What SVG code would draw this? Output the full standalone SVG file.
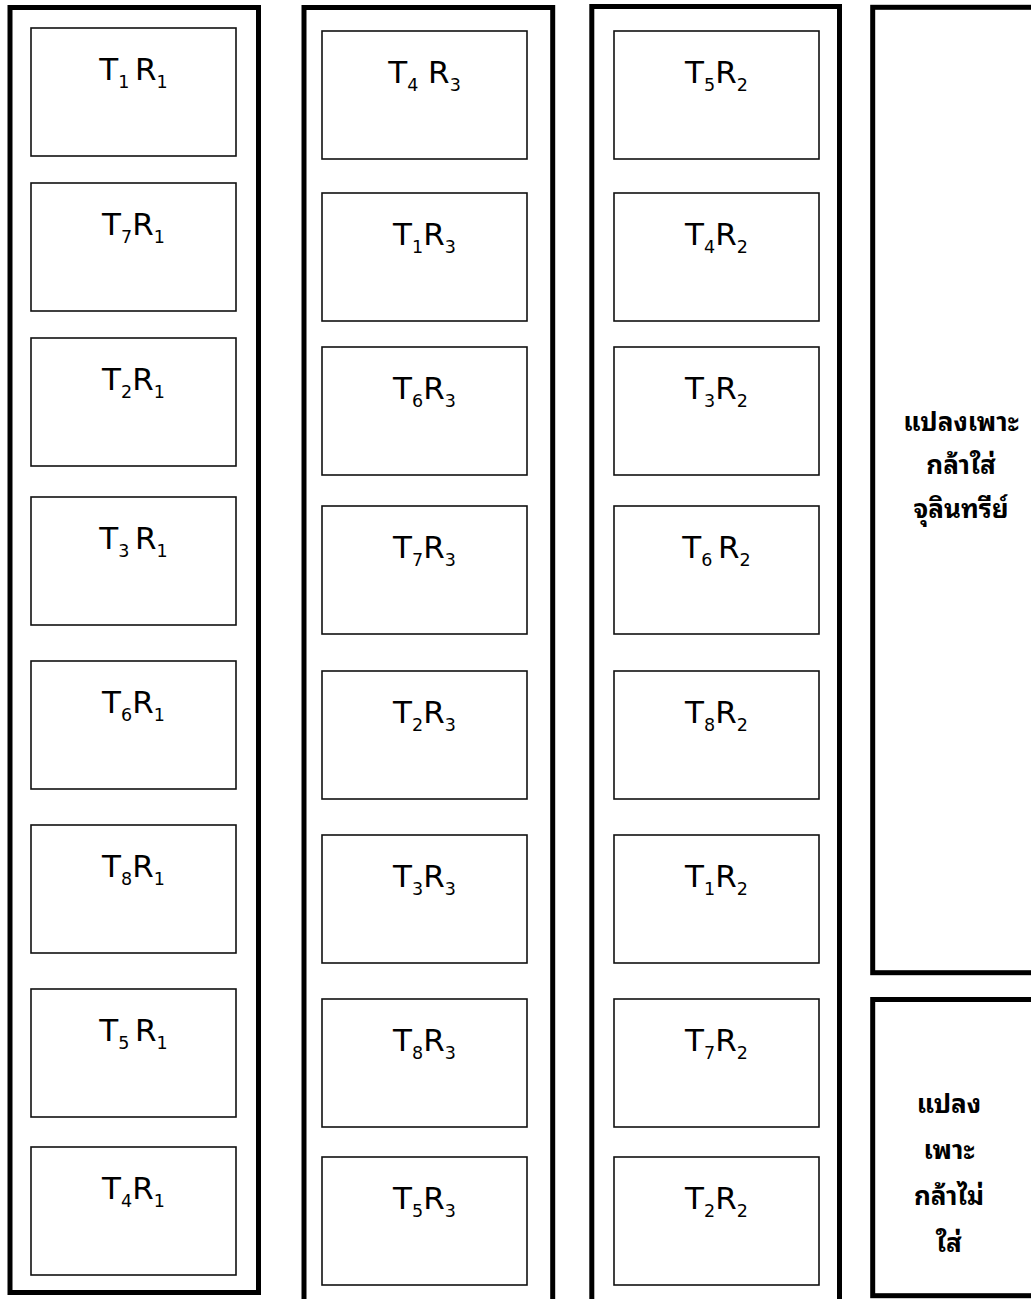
<svg xmlns="http://www.w3.org/2000/svg" width="1031" height="1299" viewBox="0 0 1031 1299">
<style>
.outer{fill:none;stroke:#000;stroke-width:5}
.plot{fill:#fff;stroke:#111;stroke-width:1.6}
.lbl{font-family:"DejaVu Sans",sans-serif;font-size:31px;fill:#000;text-anchor:middle}
.sub{font-size:17.5px}
.th{font-family:"Noto Sans Thai Looped","Loma","Garuda","Tlwg Typo","Noto Sans Thai","DejaVu Sans",sans-serif;font-size:26px;font-weight:bold;fill:#000;text-anchor:middle}
</style>
<rect width="1031" height="1299" fill="#fff"/>
<g id="beds">
<rect id="col1" class="outer" x="10" y="7.5" width="248.5" height="1285"/>
<rect id="col2" class="outer" x="304" y="7.5" width="248.7" height="1320"/>
<rect id="col3" class="outer" x="591.8" y="6.5" width="247.7" height="1320"/>
<rect id="nursery-bio" class="outer" x="872.7" y="7.3" width="180" height="965.4"/>
<rect id="nursery-plain" class="outer" x="872.7" y="999.5" width="180" height="296.2"/>
</g>
<g id="col1-plots">
<g id="p-T1R1"><rect class="plot" x="31" y="28" width="205" height="128"/><text class="lbl" x="133.5" y="80">T<tspan class="sub" dy="8">1 </tspan><tspan dy="-8">R</tspan><tspan class="sub" dy="8">1</tspan></text></g>
<g id="p-T7R1"><rect class="plot" x="31" y="183" width="205" height="128"/><text class="lbl" x="133.5" y="235">T<tspan class="sub" dy="8">7</tspan><tspan dy="-8">R</tspan><tspan class="sub" dy="8">1</tspan></text></g>
<g id="p-T2R1"><rect class="plot" x="31" y="338" width="205" height="128"/><text class="lbl" x="133.5" y="390">T<tspan class="sub" dy="8">2</tspan><tspan dy="-8">R</tspan><tspan class="sub" dy="8">1</tspan></text></g>
<g id="p-T3R1"><rect class="plot" x="31" y="497" width="205" height="128"/><text class="lbl" x="133.5" y="549">T<tspan class="sub" dy="8">3 </tspan><tspan dy="-8">R</tspan><tspan class="sub" dy="8">1</tspan></text></g>
<g id="p-T6R1"><rect class="plot" x="31" y="661" width="205" height="128"/><text class="lbl" x="133.5" y="713">T<tspan class="sub" dy="8">6</tspan><tspan dy="-8">R</tspan><tspan class="sub" dy="8">1</tspan></text></g>
<g id="p-T8R1"><rect class="plot" x="31" y="825" width="205" height="128"/><text class="lbl" x="133.5" y="877">T<tspan class="sub" dy="8">8</tspan><tspan dy="-8">R</tspan><tspan class="sub" dy="8">1</tspan></text></g>
<g id="p-T5R1"><rect class="plot" x="31" y="989" width="205" height="128"/><text class="lbl" x="133.5" y="1041">T<tspan class="sub" dy="8">5 </tspan><tspan dy="-8">R</tspan><tspan class="sub" dy="8">1</tspan></text></g>
<g id="p-T4R1"><rect class="plot" x="31" y="1147" width="205" height="128"/><text class="lbl" x="133.5" y="1199">T<tspan class="sub" dy="8">4</tspan><tspan dy="-8">R</tspan><tspan class="sub" dy="8">1</tspan></text></g>
</g>
<g id="col2-plots">
<g id="p-T4R3"><rect class="plot" x="322" y="31" width="205" height="128"/><text class="lbl" x="424.5" y="83">T<tspan class="sub" dy="8">4</tspan><tspan dy="-8"> R</tspan><tspan class="sub" dy="8">3</tspan></text></g>
<g id="p-T1R3"><rect class="plot" x="322" y="193" width="205" height="128"/><text class="lbl" x="424.5" y="245">T<tspan class="sub" dy="8">1</tspan><tspan dy="-8">R</tspan><tspan class="sub" dy="8">3</tspan></text></g>
<g id="p-T6R3"><rect class="plot" x="322" y="347" width="205" height="128"/><text class="lbl" x="424.5" y="399">T<tspan class="sub" dy="8">6</tspan><tspan dy="-8">R</tspan><tspan class="sub" dy="8">3</tspan></text></g>
<g id="p-T7R3"><rect class="plot" x="322" y="506" width="205" height="128"/><text class="lbl" x="424.5" y="558">T<tspan class="sub" dy="8">7</tspan><tspan dy="-8">R</tspan><tspan class="sub" dy="8">3</tspan></text></g>
<g id="p-T2R3"><rect class="plot" x="322" y="671" width="205" height="128"/><text class="lbl" x="424.5" y="723">T<tspan class="sub" dy="8">2</tspan><tspan dy="-8">R</tspan><tspan class="sub" dy="8">3</tspan></text></g>
<g id="p-T3R3"><rect class="plot" x="322" y="835" width="205" height="128"/><text class="lbl" x="424.5" y="887">T<tspan class="sub" dy="8">3</tspan><tspan dy="-8">R</tspan><tspan class="sub" dy="8">3</tspan></text></g>
<g id="p-T8R3"><rect class="plot" x="322" y="999" width="205" height="128"/><text class="lbl" x="424.5" y="1051">T<tspan class="sub" dy="8">8</tspan><tspan dy="-8">R</tspan><tspan class="sub" dy="8">3</tspan></text></g>
<g id="p-T5R3"><rect class="plot" x="322" y="1157" width="205" height="128"/><text class="lbl" x="424.5" y="1209">T<tspan class="sub" dy="8">5</tspan><tspan dy="-8">R</tspan><tspan class="sub" dy="8">3</tspan></text></g>
</g>
<g id="col3-plots">
<g id="p-T5R2"><rect class="plot" x="614" y="31" width="205" height="128"/><text class="lbl" x="716.5" y="83">T<tspan class="sub" dy="8">5</tspan><tspan dy="-8">R</tspan><tspan class="sub" dy="8">2</tspan></text></g>
<g id="p-T4R2"><rect class="plot" x="614" y="193" width="205" height="128"/><text class="lbl" x="716.5" y="245">T<tspan class="sub" dy="8">4</tspan><tspan dy="-8">R</tspan><tspan class="sub" dy="8">2</tspan></text></g>
<g id="p-T3R2"><rect class="plot" x="614" y="347" width="205" height="128"/><text class="lbl" x="716.5" y="399">T<tspan class="sub" dy="8">3</tspan><tspan dy="-8">R</tspan><tspan class="sub" dy="8">2</tspan></text></g>
<g id="p-T6R2"><rect class="plot" x="614" y="506" width="205" height="128"/><text class="lbl" x="716.5" y="558">T<tspan class="sub" dy="8">6 </tspan><tspan dy="-8">R</tspan><tspan class="sub" dy="8">2</tspan></text></g>
<g id="p-T8R2"><rect class="plot" x="614" y="671" width="205" height="128"/><text class="lbl" x="716.5" y="723">T<tspan class="sub" dy="8">8</tspan><tspan dy="-8">R</tspan><tspan class="sub" dy="8">2</tspan></text></g>
<g id="p-T1R2"><rect class="plot" x="614" y="835" width="205" height="128"/><text class="lbl" x="716.5" y="887">T<tspan class="sub" dy="8">1</tspan><tspan dy="-8">R</tspan><tspan class="sub" dy="8">2</tspan></text></g>
<g id="p-T7R2"><rect class="plot" x="614" y="999" width="205" height="128"/><text class="lbl" x="716.5" y="1051">T<tspan class="sub" dy="8">7</tspan><tspan dy="-8">R</tspan><tspan class="sub" dy="8">2</tspan></text></g>
<g id="p-T2R2"><rect class="plot" x="614" y="1157" width="205" height="128"/><text class="lbl" x="716.5" y="1209">T<tspan class="sub" dy="8">2</tspan><tspan dy="-8">R</tspan><tspan class="sub" dy="8">2</tspan></text></g>
</g>
<g id="nursery-labels">
<text class="th" x="961" y="431">แปลงเพาะ</text>
<text class="th" x="961" y="474">กล้าใส่</text>
<text class="th" x="961" y="518">จุลินทรีย์</text>
<text class="th" x="949" y="1113">แปลง</text>
<text class="th" x="949" y="1159">เพาะ</text>
<text class="th" x="949" y="1205">กล้าไม่</text>
<text class="th" x="949" y="1252">ใส่</text>
</g>
<g id="connectors"/>
</svg>
